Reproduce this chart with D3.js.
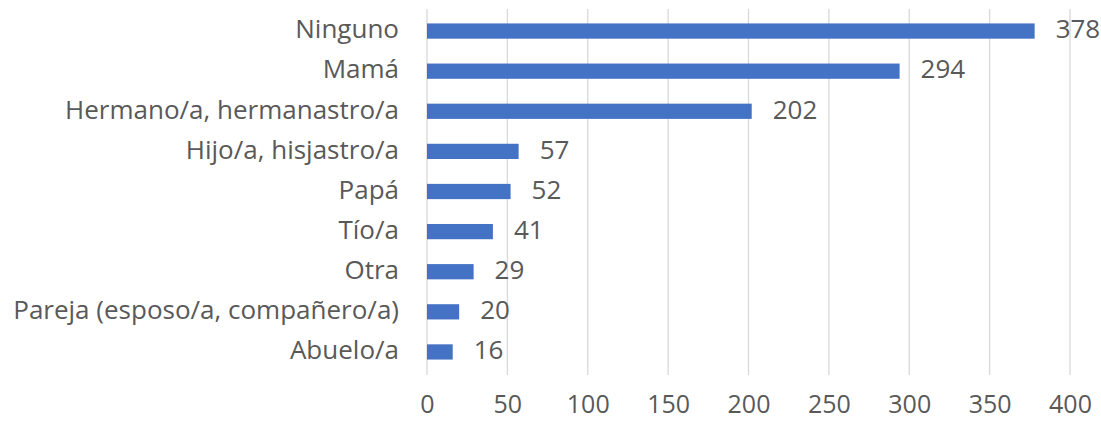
<!DOCTYPE html>
<meta charset="utf-8">
<script src="https://d3js.org/d3.v7.min.js"></script>
<style>
body { margin: 0; background: #fff; }
text { font-family: "Open Sans", "Noto Sans", sans-serif; fill: #595959; }
</style>
<body>
<div id="chart"></div>
<script>
// categories and counts, top to bottom
var categories = ["Ninguno", "Mamá", "Hermano/a, hermanastro/a", "Hijo/a, hisjastro/a",
  "Papá", "Tío/a", "Otra", "Pareja (esposo/a, compañero/a)", "Abuelo/a"];
var values = [378, 294, 202, 57, 52, 41, 29, 20, 16];
var xTicks = [0, 50, 100, 150, 200, 250, 300, 350, 400];

var width = 1101, height = 421;
var fontSize = "26px";
var svg = d3.select("#chart").append("svg")
  .attr("width", width)
  .attr("height", height);

var x = d3.scaleLinear().domain([0, 400]).range([427, 1070]);
var y = d3.scaleBand().domain(categories).range([11, 372]).paddingInner(0.62).paddingOuter(0.31);

// gridlines
svg.append("g")
  .selectAll("line")
  .data(xTicks)
  .enter().append("line")
    .attr("x1", function(d) { return x(d); })
    .attr("x2", function(d) { return x(d); })
    .attr("y1", 9)
    .attr("y2", 375)
    .style("stroke", "#d9d9d9")
    .style("stroke-width", 1.3);

// x axis labels
var xAxis = svg.append("g")
  .attr("transform", "translate(0,413)")
  .call(d3.axisBottom(x).tickValues(xTicks).tickSize(0).tickPadding(0));
xAxis.select(".domain").remove();
xAxis.selectAll("text")
  .attr("y", 0)
  .attr("dy", "0")
  .style("font-size", "25px")
  .style("fill", "#595959")
  .style("font-family", "'Open Sans', sans-serif");

// y axis labels
var yAxis = svg.append("g")
  .attr("transform", "translate(399,0)")
  .call(d3.axisLeft(y).tickSize(0).tickPadding(0));
yAxis.select(".domain").remove();
yAxis.selectAll("text")
  .attr("dy", "0.28em")
  .style("font-size", fontSize)
  .style("fill", "#595959")
  .style("font-family", "'Open Sans', sans-serif");

var data = categories.map(function(c, i) { return {name: c, value: values[i]}; });

// bars
svg.append("g")
  .selectAll("rect")
  .data(data)
  .enter().append("rect")
    .attr("x", x(0))
    .attr("y", function(d) { return y(d.name); })
    .attr("width", function(d) { return x(d.value) - x(0); })
    .attr("height", y.bandwidth())
    .style("fill", "#4472c4");

// value labels
svg.append("g")
  .selectAll("text")
  .data(data)
  .enter().append("text")
    .attr("x", function(d) { return x(d.value) + 21; })
    .attr("y", function(d) { return y(d.name) + y.bandwidth() / 2; })
    .attr("dy", "0.28em")
    .style("font-size", fontSize)
    .text(function(d) { return d.value; });
</script>
</body>
